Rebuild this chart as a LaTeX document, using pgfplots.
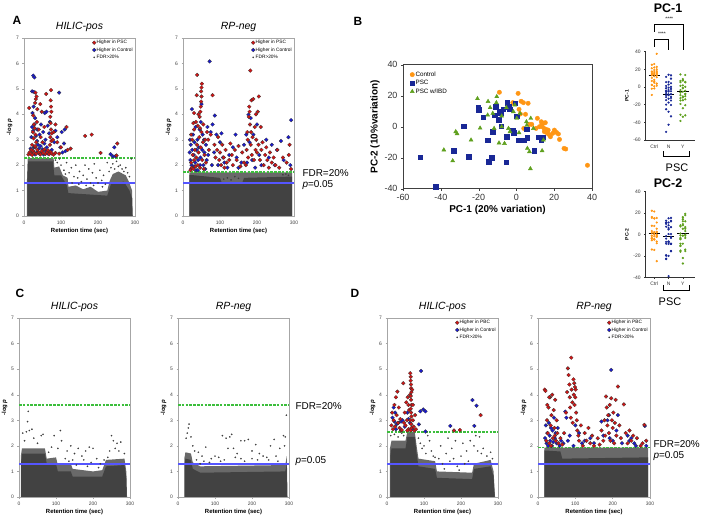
\documentclass[border=0pt]{standalone}
\usepackage{fontspec}
\setmainfont{Liberation Sans}
\usepackage{pgfplots}
\usepackage{pgfplotstable}
\pgfplotsset{compat=1.18}
\definecolor{redp}{RGB}{210,20,20}
\definecolor{bluep}{RGB}{25,25,210}
\definecolor{grayp}{RGB}{60,60,60}
\definecolor{densec}{RGB}{66,66,66}
\definecolor{bandc}{RGB}{105,105,105}
\definecolor{fdrg}{RGB}{60,190,60}
\definecolor{pblue}{RGB}{85,85,255}
\definecolor{ctrlc}{RGB}{255,150,20}
\definecolor{pscc}{RGB}{25,40,150}
\definecolor{ibdc}{RGB}{95,160,30}
\newcommand{\fs}[1]{\fontsize{#1}{#1}\selectfont}
\pgfplotsset{
  manh/.style={
    scale only axis, width=111bp, height=178bp,
    xmin=0,xmax=300,ymin=0,ymax=7,
    xtick={0,100,200,300}, ytick={0,1,...,7},
    xtick pos=left, ytick pos=left, tick align=outside,
    major tick length=1.5bp,
    axis line style={gray!70, line width=0.5bp},
    tick style={gray!70, line width=0.4bp},
    tick label style={font=\fs{5}, text=black!75},
    /pgf/number format/assume math mode=true,
    xlabel={\bfseries Retention time (sec)},
    ylabel={\bfseries -log \textit{p}},
    xlabel style={font=\fs{6}, yshift=3bp},
    ylabel style={font=\fs{6}, yshift=-3bp},
    title style={font=\fs{10.5}\itshape, yshift=-3bp},
    legend style={draw=none, fill=none, font=\fs{4.8}, at={(0.99,0.995)}, anchor=north east, row sep=1.2bp, inner sep=0.5bp, nodes={inner sep=0.6bp}},
    legend cell align=left,
  },
  redm/.style={only marks, mark=*, mark size=1.9bp, mark options={fill=redp, draw=black!80, line width=0.25bp}},
  bluem/.style={only marks, mark=*, mark size=1.9bp, mark options={fill=bluep, draw=black!80, line width=0.25bp}},
  graym/.style={only marks, mark=*, mark size=0.75bp, mark options={fill=grayp, draw=grayp, line width=0.1bp}},
  densef/.style={draw=none, fill=densec},
  bandf/.style={draw=none, fill=bandc},
  pline/.style={draw=pblue, line width=1.7bp},
  fline/.style={draw=fdrg, line width=1.6bp, dash pattern=on 2.6bp off 1.2bp},
  strip/.style={
    scale only axis, width=49.3bp, xmin=0.4, xmax=3.85,
    xtick={1,2,3}, xticklabels={Ctrl,N,Y},
    axis x line*=bottom, axis y line*=left, axis line style={-, black!80, line width=0.5bp},
    tick align=outside, major tick length=1.5bp, tick style={black!80, line width=0.4bp},
    tick label style={font=\fs{5}, text=black!80},
    /pgf/number format/assume math mode=true,
    ylabel style={font=\fs{5}\bfseries, yshift=-2bp},
    clip=false,
  },
}
\newcommand{\manhlegend}[1]{%
  \addlegendimage{redm}\addlegendentry{Higher in #1}%
  \addlegendimage{bluem}\addlegendentry{Higher in Control}%
  \addlegendimage{graym}\addlegendentry{FDR>20\%}}

\pgfplotstableread{
x y
-9.0 22.2
0.9 21.5
3.7 15.5
-1.9 15.5
6.2 15.1
1.4 11.2
2.1 8.2
4.8 8.0
3.9 -1.1
6.9 1.5
8.1 1.5
11.1 5.4
13.2 3.2
14.3 2.2
15.3 2.6
10.4 -1.1
12.2 0
13.6 0
14.6 -1.1
15.7 -1.7
16.8 -2.2
14.8 -3.2
16.9 -4.7
18.0 -6.5
17.6 -5.4
19.2 -4.3
20.1 -2.2
21.2 -3.7
22.2 -4.7
22.8 -8.2
25.2 -14.0
26.1 -14.4
37.6 -24.9
2.5 16.4
-1.6 15.0
13.5 2.0
16.0 -3.8
}\ctrl
\pgfplotstableread{
x y
-50.8 -19.8
-42.7 -38.9
-33.2 -15.5
-25.2 -19.4
-28.0 0.4
-20.3 12.3
-19.9 10.8
-17.6 6.0
-15.2 -8.8
-14.8 -22.6
-13.2 -20.0
-12.5 -3.2
-11.5 7.3
-9.3 4.7
-8.1 0.4
-9.2 9.9
-8.3 8.6
-11.1 12.9
-5.3 -23.0
-5.1 -6.5
-4.8 15.5
-4.2 12.9
-3.4 11.2
-2.1 -2.2
-1.4 -3.9
-0.7 15.1
0.2 6.9
1.2 -8.6
2.8 -8.8
4.2 -8.8
5.5 -1.5
5.8 -7.1
9.5 -15.5
11.5 -6.9
13.9 -6.9
13.2 -8.6
-7.0 11.2
}\psc
\pgfplotstableread{
x y
-38.4 -15.0
-33.7 -22.0
-32.1 -3.2
-31.4 -4.5
-24.0 -8.6
-20.6 18.1
-19.2 -0.9
-15.0 16.3
-13.9 12.3
-12.5 8.6
-11.8 -1.1
-10.4 19.4
-9.2 -10.5
-10.6 15.5
-7.8 6.9
-6.3 -10.8
-5.3 12.3
-4.2 -1.1
-3.4 -3.2
-1.6 9.7
0.2 5.4
1.4 -3.9
1.9 8.6
5.3 3.2
5.5 0.9
7.6 5.4
5.8 -14.0
6.9 -16.1
7.4 -27.1
13.6 -15.5
14.3 -8.6
9.0 -1.1
-7.8 0.0
-15.2 7.5
-0.9 14.0
}\ibd

\begin{document}
\begin{tikzpicture}
\useasboundingbox (0,0) rectangle (709bp,522bp);

% ---------------- A: HILIC-pos
\begin{axis}[manh, at={(24bp,306bp)}, anchor=south west, title={HILIC-pos}]
\manhlegend{PSC}
\addplot[bandf, forget plot] coordinates {(8,0)(8,1.4)(10,2.28)(80,2.28)(82,1.9)(95,1.95)(105,1.6)(118,1.5)(120,1.15)(140,1.2)(160,1.05)(180,1.15)(200,0.95)(225,1.0)(232,1.4)(240,1.65)(255,1.75)(275,1.6)(285,1.3)(292,1.0)(294,0)} \closedcycle;
\addplot[densef, forget plot] coordinates {(9,0)(9,1.3)(11,2.15)(78,2.15)(82,1.6)(100,1.6)(116,1.2)(120,0.9)(225,0.8)(235,1.25)(270,1.35)(285,1.0)(292,0.7)(293,0)} \closedcycle;
\addplot[graym, forget plot] coordinates {(85,2.2)(90,2.1)(100,2.0)(108,1.8)(115,2.1)(122,1.7)(128,1.9)(135,1.55)(140,2.0)(145,1.5)(150,1.75)(155,1.35)(160,1.6)(165,2.0)(170,1.45)(175,1.85)(180,1.3)(185,1.7)(190,2.05)(195,1.5)(200,1.3)(205,1.8)(210,1.4)(215,1.6)(220,1.25)(225,2.1)(230,1.75)(235,1.9)(240,2.05)(245,1.85)(250,2.15)(255,1.95)(260,2.0)(265,1.85)(270,1.75)(275,1.9)(280,1.7)(285,1.55)(290,2.25)(130,1.3)(148,1.25)(168,1.2)(188,1.2)(212,1.15)(96,2.25)(112,1.65)};
\addplot[pline, forget plot] coordinates {(0,1.3)(300,1.3)};
\addplot[fline, forget plot] coordinates {(0,2.28)(300,2.28)};
\addplot[bluem, forget plot] coordinates {(25,5.52)(28,5.45)(22,4.9)(27,4.88)(26,4.3)(23,4.05)(30,3.85)(28,3.6)(25,3.35)(32,3.15)(35,2.95)(38,2.8)(27,2.7)(24,2.55)(30,2.42)(35,2.5)(40,2.65)(42,2.45)(45,2.75)(48,2.5)(50,2.62)(53,2.42)(55,2.85)(58,3.0)(60,2.55)(62,2.7)(65,2.45)(20,3.1)(18,2.65)(22,3.5)(36,3.4)(42,3.2)(46,3.6)(52,3.3)(56,4.05)(61,4.1)(64,3.55)(68,3.25)(70,3.7)(75,2.6)(82,2.9)(85,3.35)(90,3.1)(95,4.85)(98,2.7)(102,3.3)(108,2.85)(112,2.55)(110,3.4)(104,2.5)(234,2.43)(240,2.35)(247,2.35)(244,2.7)};
\addplot[redm, forget plot] coordinates {(12,2.42)(15,2.5)(18,2.45)(20,2.6)(22,2.4)(25,2.55)(28,2.48)(30,2.7)(33,2.45)(36,2.6)(40,2.5)(44,2.42)(48,2.55)(52,2.47)(55,2.62)(58,2.44)(62,2.5)(65,2.58)(68,2.43)(72,2.52)(75,2.46)(80,2.41)(85,2.48)(14,4.25)(25,3.95)(27,3.6)(29,3.45)(24,3.3)(31,3.2)(26,3.05)(33,2.9)(22,2.8)(30,2.75)(35,3.7)(32,4.6)(31,4.85)(34,4.7)(30,4.45)(36,4.2)(40,3.4)(45,3.1)(50,2.9)(55,3.5)(48,4.1)(44,4.4)(60,4.8)(73,4.95)(72,4.55)(73,4.3)(74,4.1)(71,3.9)(72,3.65)(73,3.4)(75,3.25)(71,3.1)(74,2.95)(70,2.8)(78,3.0)(80,3.3)(85,3.6)(90,2.9)(95,2.45)(100,2.7)(115,3.5)(118,2.6)(126,2.65)(165,3.15)(183,3.2)(207,2.48)(252,2.85)(250,2.38)};
\end{axis}

% ---------------- A: RP-neg
\begin{axis}[manh, at={(183bp,306bp)}, anchor=south west, title={RP-neg}]
\manhlegend{PSC}
\addplot[bandf, forget plot] coordinates {(17,0)(17,1.72)(295,1.72)(295,0)} \closedcycle;
\addplot[densef, forget plot] coordinates {(17,0)(17,1.62)(100,1.5)(105,1.3)(160,1.3)(165,1.5)(295,1.55)(295,0)} \closedcycle;
\addplot[graym, forget plot] coordinates {(110,1.45)(120,1.5)(130,1.42)(140,1.55)(150,1.48)(270,1.62)(278,1.65)(285,1.6)};
\addplot[pline, forget plot] coordinates {(0,1.3)(300,1.3)};
\addplot[fline, forget plot] coordinates {(0,1.72)(300,1.72)};
\addplot[bluem, forget plot] coordinates {(18,2.5)(19,3.0)(20,2.2)(21,2.8)(23,2.0)(24,4.2)(25,2.6)(27,1.9)(27,3.2)(29,2.4)(31,2.9)(33,2.1)(34,3.5)(35,1.8)(37,2.6)(39,3.0)(41,2.2)(43,2.7)(45,3.4)(47,2.3)(48,3.7)(50,4.4)(52,2.6)(53,3.2)(55,2.0)(57,3.0)(58,2.5)(60,1.85)(62,2.8)(64,2.2)(66,3.5)(68,2.4)(72,6.08)(75,3.3)(78,2.0)(80,3.6)(84,2.5)(86,3.95)(90,3.2)(95,2.0)(100,2.9)(104,3.25)(108,2.3)(112,2.1)(120,1.9)(125,2.4)(135,2.7)(142,3.2)(145,2.3)(150,1.9)(158,2.1)(165,2.8)(171,3.2)(173,2.1)(177,3.98)(180,2.9)(183,3.85)(187,2.2)(190,3.2)(195,1.9)(200,3.6)(206,2.4)(212,2.0)(225,3.0)(232,2.3)(240,2.8)(248,2.0)(254,2.6)(265,2.95)(272,2.2)(285,3.1)(292,3.77)(290,2.0)(22,1.85)(30,1.95)(40,1.8)(46,2.0)};
\addplot[redm, forget plot] coordinates {(20,1.8)(22,2.1)(24,1.9)(26,2.4)(28,1.85)(30,2.2)(32,2.6)(34,1.95)(36,2.3)(38,2.8)(40,2.0)(42,2.5)(44,3.1)(46,1.9)(48,2.7)(50,3.3)(52,2.2)(54,2.9)(56,1.85)(58,2.4)(60,3.0)(62,2.1)(25,3.0)(30,3.4)(35,3.7)(40,3.55)(45,3.9)(47,4.1)(48,4.3)(49,4.5)(50,4.7)(49,4.9)(50,5.05)(51,5.2)(46,3.45)(38,5.55)(37,4.75)(30,4.05)(28,3.65)(22,3.2)(42,4.0)(55,3.6)(65,3.3)(70,2.6)(68,3.0)(75,3.2)(80,4.75)(85,2.8)(88,2.3)(92,2.6)(95,3.1)(98,2.2)(100,2.5)(103,2.0)(106,2.8)(110,2.3)(112,1.9)(115,2.6)(118,2.1)(125,2.2)(128,2.85)(132,2.4)(135,2.0)(140,2.6)(145,2.2)(150,2.75)(155,1.95)(160,2.5)(165,2.1)(170,2.0)(172,2.6)(174,3.3)(175,3.0)(176,2.3)(178,3.9)(179,4.3)(180,4.1)(181,3.6)(182,5.72)(183,2.8)(184,3.3)(185,4.55)(186,2.4)(188,3.1)(190,4.6)(192,2.2)(194,3.5)(196,2.6)(197,4.0)(198,3.0)(200,2.5)(202,4.1)(204,2.8)(205,4.7)(208,2.2)(210,3.5)(212,2.6)(215,2.9)(218,2.0)(222,2.4)(225,2.7)(228,2.2)(232,1.9)(235,2.5)(240,2.1)(245,2.3)(250,2.0)(255,2.6)(260,1.9)(270,2.3)(280,2.1)(286,2.4)(288,2.8)(292,1.85)};
\end{axis}

% ---------------- C: HILIC-pos
\begin{axis}[manh, at={(19bp,25bp)}, anchor=south west, height=179bp, title={HILIC-pos}]
\addplot[bandf] coordinates {(5,0)(5,1.6)(8,1.9)(70,1.9)(75,1.5)(100,1.55)(105,1.25)(140,1.3)(145,1.1)(200,1.0)(225,1.05)(235,1.45)(285,1.5)(290,1.0)(292,0)} \closedcycle;
\addplot[densef] coordinates {(6,0)(6,1.4)(9,1.7)(70,1.7)(75,1.3)(100,1.3)(105,1.0)(140,1.0)(145,0.8)(225,0.8)(235,1.2)(285,1.25)(290,0.8)(291,0)} \closedcycle;
\addplot[graym] coordinates {(25,3.35)(23,2.95)(20,2.55)(28,2.6)(35,2.65)(10,2.5)(15,2.2)(40,2.3)(50,2.1)(60,2.4)(65,2.45)(95,2.4)(112,2.6)(115,2.2)(105,1.9)(130,1.8)(140,2.0)(150,1.7)(160,1.9)(170,1.6)(180,1.8)(190,1.95)(200,1.9)(210,1.5)(220,1.3)(250,2.4)(255,2.2)(265,2.1)(275,2.15)(260,1.9)(285,1.7)(245,1.8)(125,1.5)(135,1.4)(145,1.45)(175,1.45)(195,1.35)(230,1.45)(240,1.55)(270,1.8)(80,1.75)(88,1.95)(155,1.25)(185,1.2)(215,1.15)};
\addplot[pline] coordinates {(0,1.3)(300,1.3)};
\addplot[fline] coordinates {(0,3.6)(300,3.6)};
\end{axis}

% ---------------- C: RP-neg
\begin{axis}[manh, at={(178bp,25bp)}, anchor=south west, height=179bp, title={RP-neg}]
\addplot[bandf] coordinates {(17,0)(17,1.5)(20,1.75)(35,1.7)(40,1.35)(60,1.2)(290,1.25)(294,1.6)(296,0)} \closedcycle;
\addplot[densef] coordinates {(18,0)(18,1.3)(20,1.5)(35,1.45)(40,1.1)(60,0.95)(290,1.0)(294,1.3)(295,0)} \closedcycle;
\addplot[graym] coordinates {(25,2.5)(28,2.7)(30,2.85)(22,2.3)(35,2.35)(40,2.0)(45,1.8)(55,1.75)(65,1.6)(75,1.95)(90,1.5)(100,1.6)(110,1.55)(120,2.4)(130,2.3)(135,1.9)(140,2.35)(145,2.45)(150,1.9)(160,1.7)(170,2.2)(180,2.2)(190,2.25)(200,1.8)(210,2.05)(220,1.7)(230,1.6)(240,1.55)(250,2.0)(260,2.25)(265,1.6)(275,1.9)(285,2.4)(290,2.35)(293,3.2)(288,2.0)(200,1.5)(155,1.55)(115,1.4)(85,1.35)(60,1.3)(245,1.45)(180,1.4)(50,1.45)(70,1.4)(125,1.45)(170,1.5)(215,1.45)(270,1.4)};
\addplot[pline] coordinates {(0,1.3)(300,1.3)};
\addplot[fline] coordinates {(0,3.6)(300,3.6)};
\end{axis}

% ---------------- D: HILIC-pos
\begin{axis}[manh, at={(387bp,25bp)}, anchor=south west, height=179bp, title={HILIC-pos}]
\manhlegend{PBC}
\addplot[bandf, forget plot] coordinates {(8,0)(8,1.9)(12,2.2)(50,2.2)(55,2.55)(75,2.55)(80,2.0)(85,1.5)(130,1.4)(135,1.0)(230,0.95)(235,1.3)(280,1.45)(288,1.0)(292,0)} \closedcycle;
\addplot[densef, forget plot] coordinates {(9,0)(9,1.6)(12,1.9)(50,1.9)(55,2.35)(75,2.35)(80,1.7)(85,1.2)(130,1.1)(135,0.75)(230,0.7)(235,1.1)(280,1.2)(288,0.8)(291,0)} \closedcycle;
\addplot[graym, forget plot] coordinates {(10,2.4)(20,2.45)(30,2.35)(40,2.5)(45,2.4)(85,2.3)(90,2.1)(95,1.9)(100,2.0)(105,1.7)(110,2.4)(115,2.2)(120,1.8)(125,1.6)(140,1.5)(145,2.0)(150,1.3)(160,1.7)(165,2.3)(170,1.4)(175,1.9)(180,1.5)(185,2.2)(190,1.2)(200,1.6)(205,2.1)(210,1.3)(215,1.8)(220,1.4)(225,2.2)(235,2.0)(240,2.4)(245,1.8)(250,2.35)(255,1.7)(260,1.9)(270,1.6)(280,1.75)(285,1.5)(155,1.1)(195,1.05)(130,1.55)};
\addplot[pline, forget plot] coordinates {(0,1.3)(300,1.3)};
\addplot[fline, forget plot] coordinates {(0,2.55)(300,2.55)};
\addplot[bluem, forget plot] coordinates {(15,3.1)(18,3.5)(20,2.95)(22,3.3)(24,2.65)(26,2.85)(30,2.9)(38,2.95)(42,3.0)(48,2.75)(55,3.3)(58,3.05)(62,2.9)(92,4.93)(90,3.35)(98,3.42)(104,3.35)(86,2.84)(104,2.56)(171,2.78)(231,3.79)(242,3.57)(236,2.78)(68,2.65)};
\addplot[redm, forget plot] coordinates {(12,2.8)(14,3.3)(16,2.65)(18,3.0)(20,3.6)(22,2.75)(24,3.9)(26,3.2)(28,4.12)(30,2.9)(32,3.5)(34,2.7)(36,3.05)(38,2.6)(44,4.45)(48,3.3)(50,2.8)(52,3.7)(54,3.0)(56,3.9)(58,2.65)(60,3.4)(62,4.0)(63,4.84)(64,4.7)(64,4.55)(65,4.4)(65,4.25)(66,4.1)(64,3.95)(65,3.8)(66,3.6)(64,3.45)(65,3.3)(66,3.15)(63,3.0)(65,2.85)(66,2.7)(64,2.6)(68,4.2)(70,3.6)(70,3.0)(72,2.75)(74,2.6)(78,2.65)(76,3.2)(58,3.6)(55,2.6)(46,2.9)(40,2.62)(181,2.6)(197,2.62)(253,3.2)};
\end{axis}

% ---------------- D: RP-neg
\begin{axis}[manh, at={(538bp,25bp)}, anchor=south west, height=179bp, width=112bp, title={RP-neg}]
\manhlegend{PBC}
\addplot[bandf, forget plot] coordinates {(17,0)(17,1.93)(295,1.93)(295,0)} \closedcycle;
\addplot[densef, forget plot] coordinates {(17,0)(17,1.82)(60,1.78)(65,1.5)(295,1.55)(295,0)} \closedcycle;
\addplot[pline, forget plot] coordinates {(0,1.3)(300,1.3)};
\addplot[fline, forget plot] coordinates {(0,1.93)(300,1.93)};
\addplot[bluem, forget plot] coordinates {(19,2.3)(21,2.8)(23,2.1)(25,2.5)(27,2.0)(29,2.9)(31,2.4)(33,2.2)(35,2.7)(37,2.0)(39,2.6)(41,2.15)(43,3.1)(45,2.3)(47,2.5)(50,2.1)(53,2.7)(58,2.0)(62,2.2)(68,2.1)(73,3.34)(76,3.1)(80,2.2)(85,2.4)(95,2.0)(100,2.8)(110,2.5)(118,2.1)(125,2.2)(140,2.3)(150,2.1)(170,2.95)(175,2.4)(186,3.0)(190,3.2)(192,2.3)(196,4.97)(200,2.2)(210,2.6)(214,3.2)(225,2.1)(240,2.4)(245,2.2)(250,2.3)(258,2.1)(262,2.0)(286,2.78)(290,2.0)};
\addplot[redm, forget plot] coordinates {(18,4.2)(20,4.15)(22,2.2)(24,3.0)(26,2.5)(28,3.5)(30,2.1)(32,3.9)(34,2.8)(36,3.2)(38,4.0)(40,2.3)(42,3.4)(44,2.7)(46,3.8)(48,2.2)(50,3.0)(52,2.5)(25,3.6)(30,3.9)(35,2.0)(45,2.4)(55,2.1)(60,2.3)(65,2.05)(70,2.5)(75,3.3)(78,4.1)(80,5.03)(82,4.77)(84,4.4)(85,3.9)(86,3.5)(88,3.1)(89,5.45)(90,4.2)(92,3.7)(93,2.9)(95,4.6)(96,4.0)(97,4.45)(98,3.6)(99,4.3)(100,3.9)(101,4.2)(102,3.3)(104,3.0)(105,2.6)(108,2.4)(110,2.2)(115,2.8)(120,2.0)(125,2.5)(130,2.2)(135,2.7)(140,2.1)(145,2.4)(150,2.0)(160,2.3)(165,2.05)(170,2.6)(175,2.2)(178,3.0)(180,2.4)(182,3.93)(184,3.5)(186,2.8)(188,3.2)(190,2.5)(192,3.6)(194,2.2)(196,3.86)(198,3.0)(200,2.7)(202,3.3)(204,2.1)(206,2.9)(208,3.8)(210,2.4)(214,4.32)(218,2.8)(222,2.3)(230,3.62)(235,2.5)(240,2.1)(245,2.6)(250,2.2)(255,2.4)(265,2.3)(275,2.0)(280,2.1)(285,2.82)(290,2.2)};
\end{axis}

% ---------------- B: PCA
\begin{axis}[at={(403bp,333.3bp)}, anchor=south west, scale only axis, width=189bp, height=124bp,
  xmin=-60,xmax=40,ymin=-40,ymax=40, xtick={-60,-40,...,40}, ytick={-40,-20,...,40},
  tick align=outside, major tick length=2bp, xtick pos=left, ytick pos=left,
  axis line style={black!75, line width=0.6bp}, tick style={black!75},
  tick label style={font=\fs{9}, text=black!80},
  /pgf/number format/assume math mode=true,
  xlabel={\bfseries PC-1 (20\% variation)}, ylabel={\bfseries PC-2 (10\%variation)},
  label style={font=\fs{10}},
  xlabel style={yshift=2bp}, ylabel style={yshift=-2bp},
  legend style={draw=none, fill=none, at={(0.02,0.97)}, anchor=north west, font=\fs{6.3}, row sep=0.5bp, nodes={inner sep=1bp}},
  legend cell align=left]
\addplot[only marks, mark=*, mark size=2.2bp, color=ctrlc] table {\ctrl};
\addlegendentry{Control}
\addplot[only marks, mark=square*, mark size=2.3bp, color=pscc] table {\psc};
\addlegendentry{PSC}
\addplot[only marks, mark=triangle*, mark size=2.3bp, color=ibdc] table {\ibd};
\addlegendentry{PSC w/IBD}
\end{axis}

% ---------------- B: PC-1 strip
\begin{axis}[strip, at={(645.7bp,382bp)}, anchor=south west, height=88.3bp,
  ymin=-60, ymax=40, ytick={-60,-40,...,40}, ylabel={PC-1}]
\addplot[only marks, mark=*, mark size=0.9bp, color=ctrlc] table[x expr={1+0.17*(mod(\coordindex,3)-1)}, y=x] {\ctrl};
\addplot[only marks, mark=*, mark size=0.9bp, color=pscc] table[x expr={2+0.17*(mod(\coordindex,3)-1)}, y=x] {\psc};
\addplot[only marks, mark=*, mark size=0.9bp, color=ibdc] table[x expr={3+0.17*(mod(\coordindex,3)-1)}, y=x] {\ibd};
\addplot[black, line width=0.8bp] coordinates {(0.6,13.6)(1.4,13.6)};
\addplot[black, line width=0.8bp] coordinates {(1.6,-7.9)(2.4,-7.9)};
\addplot[black, line width=0.8bp] coordinates {(2.6,-5.3)(3.4,-5.3)};
\addplot[black, line width=0.5bp] coordinates {(1,45.7)(1,54.4)(2,54.4)(2,42)};
\addplot[black, line width=0.5bp] coordinates {(1,62.6)(1,71.4)(3,71.4)(3,42)};
\addplot[black, line width=0.5bp] coordinates {(1.62,-73)(1.62,-78)(3.42,-78)(3.42,-73)};
\node[font=\fs{5}] at (axis cs:1.54,60.5) {****};
\node[font=\fs{5}] at (axis cs:2.05,77.5) {****};
\end{axis}

% ---------------- B: PC-2 strip
\begin{axis}[strip, at={(645.7bp,244.7bp)}, anchor=south west, height=85.6bp,
  ymin=-40, ymax=40, ytick={-40,-20,...,40}, ylabel={PC-2}]
\addplot[only marks, mark=*, mark size=0.9bp, color=ctrlc] table[x expr={1+0.17*(mod(\coordindex,3)-1)}, y=y] {\ctrl};
\addplot[only marks, mark=*, mark size=0.9bp, color=pscc] table[x expr={2+0.17*(mod(\coordindex,3)-1)}, y=y] {\psc};
\addplot[only marks, mark=*, mark size=0.9bp, color=ibdc] table[x expr={3+0.17*(mod(\coordindex,3)-1)}, y=y] {\ibd};
\addplot[black, line width=0.8bp] coordinates {(0.6,1)(1.4,1)};
\addplot[black, line width=0.8bp] coordinates {(1.6,-2)(2.4,-2)};
\addplot[black, line width=0.8bp] coordinates {(2.6,1)(3.4,1)};
\addplot[black, line width=0.5bp] coordinates {(1.62,-47)(1.62,-52)(3.42,-52)(3.42,-47)};
\end{axis}

% ---------------- texts
\node[font=\fs{12}\bfseries] at (17bp,502bp) {A};
\node[font=\fs{12}\bfseries] at (358bp,501bp) {B};
\node[font=\fs{12}\bfseries] at (20bp,229bp) {C};
\node[font=\fs{12}\bfseries] at (355bp,229bp) {D};
\node[font=\fs{12.5}\bfseries] at (668bp,513.5bp) {PC-1};
\node[font=\fs{12.5}\bfseries] at (668bp,339bp) {PC-2};
\node[font=\fs{11}] at (677bp,354bp) {PSC};
\node[font=\fs{11}] at (670bp,220bp) {PSC};
\node[anchor=west, font=\fs{10}] at (299bp,349bp) {FDR=20\%};
\node[anchor=west, font=\fs{10}] at (299bp,337bp) {\textit{p}=0.05};
\node[anchor=west, font=\fs{10}] at (292bp,116bp) {FDR=20\%};
\node[anchor=west, font=\fs{10}] at (292bp,61bp) {\textit{p}=0.05};
\node[anchor=west, font=\fs{10}] at (650bp,78bp) {FDR=20\%};
\node[anchor=west, font=\fs{10}] at (650bp,66bp) {\textit{p}=0.05};
\end{tikzpicture}
\end{document}
